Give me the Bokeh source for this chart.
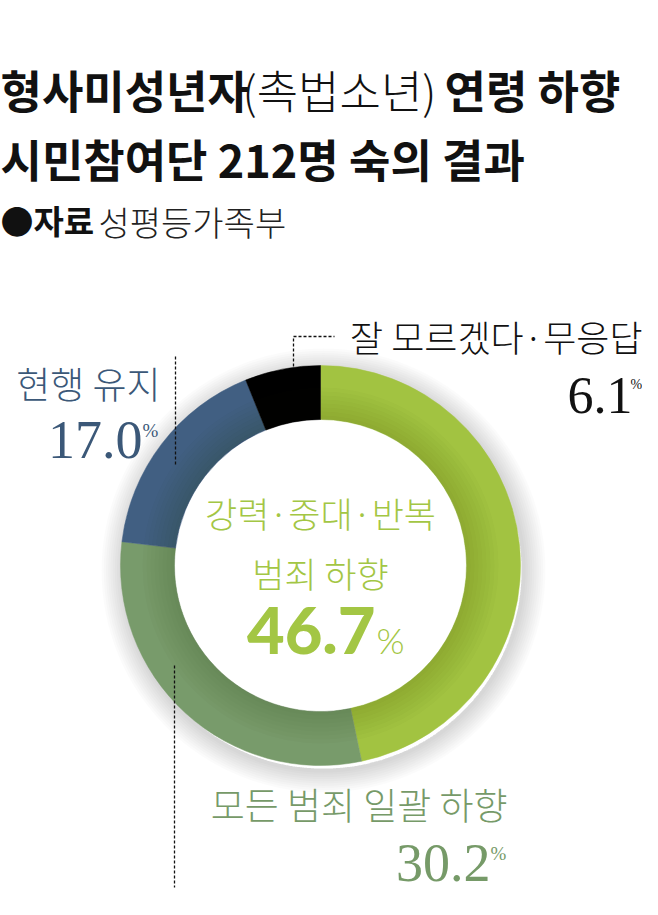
import math
from bokeh.plotting import figure
from bokeh.models import Range1d
from bokeh.core.properties import value
from bokeh.embed import file_html
from bokeh.resources import INLINE

# ---------------- data ----------------
categories = ["강력·중대·반복 범죄 하향", "모든 범죄 일괄 하향", "현행 유지", "잘 모르겠다·무응답"]
shares = [46.7, 30.2, 17.0, 6.1]
colors = ["#a2c341", "#789b6b", "#415f82", "#000000"]
title_1 = ["형사미성년자", "(촉법소년)", "연령 하향"]
title_2 = "시민참여단 212명 숙의 결과"
source_label = "●자료"
source_name = "성평등가족부"

# ---------------- layout helpers ----------------
W, H = 642, 899
TOP = 8
def Y(ref_y):
    return (TOP + H) - ref_y

KR = "Noto Sans CJK KR"
KR_LIGHT = "Noto Sans CJK KR Light"
SERIF = "Liberation Serif"

p = figure(width=W, height=H, x_range=Range1d(8, 8 + W), y_range=Range1d(0, H),
           output_backend="svg", toolbar_location=None, min_border=0,
           x_axis_location=None, y_axis_location=None, outline_line_color=None,
           background_fill_color="white", border_fill_color="white")
p.xgrid.visible = False
p.ygrid.visible = False

# ---------------- donut ----------------
cx, cy = 328, Y(573)
r_in, r_out = 146, 200

# soft outer shadow
for k in range(10):
    p.annulus(x=cx + 3, y=cy - 5, inner_radius=r_out - 2, outer_radius=r_out + 2.2 * (k + 1),
              inner_radius_units="screen", outer_radius_units="screen",
              fill_color="#000000", fill_alpha=0.014, line_color=None)

total = sum(shares)
starts, ends = [], []
acc = 0.0
for v in shares:
    starts.append(math.pi / 2 - acc / total * 2 * math.pi)
    acc += v
    ends.append(math.pi / 2 - acc / total * 2 * math.pi)

p.annular_wedge(x=[cx] * len(shares), y=[cy] * len(shares),
                inner_radius=r_in, outer_radius=r_out,
                inner_radius_units="screen", outer_radius_units="screen",
                start_angle=starts, end_angle=ends, direction="clock",
                fill_color=colors, line_color=colors, line_width=0.5)

# inner shading of the ring
for k in range(8):
    p.annulus(x=cx, y=cy, inner_radius=r_in, outer_radius=r_in + 4 * (k + 1),
              inner_radius_units="screen", outer_radius_units="screen",
              fill_color="#1b2a10", fill_alpha=0.018, line_color=None)

# ---------------- leader lines ----------------
p.line(x=[301, 301, 342], y=[Y(374), Y(344), Y(344)], line_color="#111111",
       line_width=1.3, line_dash="3 2")
p.line(x=[183, 183], y=[Y(364), Y(473)], line_color="#111111", line_width=1.3, line_dash="3 2")
p.line(x=[182, 182], y=[Y(673), Y(895)], line_color="#111111", line_width=1.3, line_dash="3 2")

# ---------------- title ----------------
p.text(x=[8], y=[Y(97)], text=[title_1[0]], text_font=value(KR), text_font_style="bold",
       text_font_size="45px", text_color="#111111", text_align="left", text_baseline="middle")
p.text(x=[250], y=[Y(97)], text=[title_1[1]], text_font=value(KR_LIGHT),
       text_font_size="45px", text_color="#111111", text_align="left", text_baseline="middle")
p.text(x=[452], y=[Y(97)], text=[title_1[2]], text_font=value(KR), text_font_style="bold",
       text_font_size="45px", text_color="#111111", text_align="left", text_baseline="middle")
p.text(x=[8], y=[Y(166)], text=[title_2], text_font=value(KR), text_font_style="bold",
       text_font_size="45px", text_color="#111111", text_align="left", text_baseline="middle")
p.text(x=[8], y=[Y(227)], text=[source_label], text_font=value(KR), text_font_style="bold",
       text_font_size="33px", text_color="#111111", text_align="left", text_baseline="middle")
p.text(x=[106], y=[Y(229)], text=[source_name], text_font=value(KR_LIGHT),
       text_font_size="34px", text_color="#222222", text_align="left", text_baseline="middle")

# ---------------- labels ----------------
pct = [f"{v:.1f}" for v in shares]

# black: 잘 모르겠다·무응답
p.text(x=[650], y=[Y(343)], text=[categories[3]], text_font=value(KR_LIGHT),
       text_font_size="36px", text_color="#111111", text_align="right", text_baseline="middle")
p.text(x=[640], y=[Y(403)], text=[pct[3]], text_font=value(SERIF),
       text_font_size="52px", text_color="#111111", text_align="right", text_baseline="middle")
p.text(x=[638], y=[Y(392)], text=["%"], text_font=value(SERIF),
       text_font_size="14px", text_color="#111111", text_align="left", text_baseline="middle")

# blue: 현행 유지
p.text(x=[168], y=[Y(390)], text=[categories[2]], text_font=value(KR_LIGHT),
       text_font_size="37px", text_color="#3b5878", text_align="right", text_baseline="middle")
p.text(x=[150], y=[Y(447)], text=[pct[2]], text_font=value(SERIF),
       text_font_size="54px", text_color="#3b5878", text_align="right", text_baseline="middle")
p.text(x=[150], y=[Y(438)], text=["%"], text_font=value(SERIF),
       text_font_size="19px", text_color="#3b5878", text_align="left", text_baseline="middle")

# center: 강력·중대·반복 범죄 하향
green_txt = "#a3c644"
p.text(x=[328, 328], y=[Y(520), Y(580)], text=["강력·중대·반복", "범죄 하향"], text_font=value(KR_LIGHT),
       text_font_size="35px", text_color=green_txt, text_align="center", text_baseline="middle")
p.text(x=[383], y=[Y(638)], text=[pct[0]], text_font=value("Lato Black"),
       text_font_size="65px", text_color=green_txt, text_align="right", text_baseline="middle")
p.text(x=[384], y=[Y(647)], text=["%"], text_font=value("Lato Light"),
       text_font_size="36px", text_color=green_txt, text_align="left", text_baseline="middle")

# dark green: 모든 범죄 일괄 하향
dg_txt = "#769a68"
p.text(x=[515], y=[Y(811)], text=[categories[1]], text_font=value(KR_LIGHT),
       text_font_size="37px", text_color=dg_txt, text_align="right", text_baseline="middle")
p.text(x=[498], y=[Y(870)], text=[pct[1]], text_font=value(SERIF),
       text_font_size="54px", text_color=dg_txt, text_align="right", text_baseline="middle")
p.text(x=[498], y=[Y(861)], text=["%"], text_font=value(SERIF),
       text_font_size="19px", text_color=dg_txt, text_align="left", text_baseline="middle")

open("out.html", "w").write(file_html(p, INLINE))
